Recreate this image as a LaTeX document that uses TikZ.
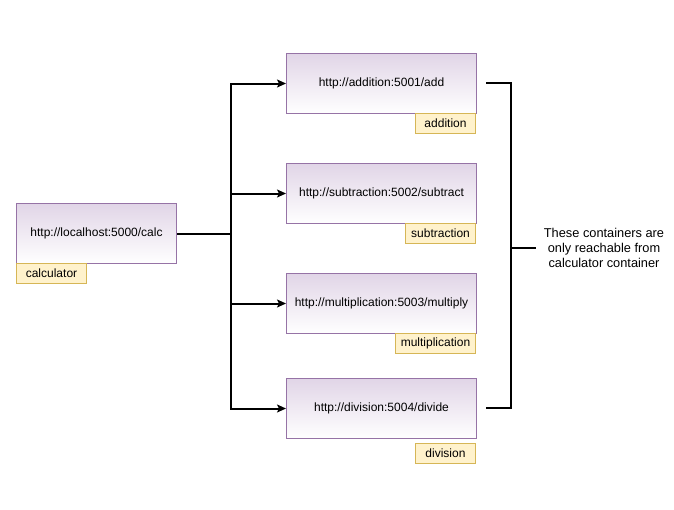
\documentclass[tikz,border=0pt]{standalone}
\usepackage{fontspec}
\setmainfont{Liberation Sans}
\usetikzlibrary{arrows.meta}
\definecolor{boxtop}{HTML}{E1D5E7}
\definecolor{boxline}{HTML}{9673A6}
\definecolor{tagfill}{HTML}{FFF2CC}
\definecolor{tagline}{HTML}{D6B656}
\begin{document}
\begin{tikzpicture}[x=1pt,y=-1pt,
  svc/.style={draw=boxline,line width=1pt,top color=boxtop,bottom color=white,
    minimum height=60pt,inner sep=0pt,font=\fontsize{12}{14}\selectfont,anchor=north west},
  tag/.style={draw=tagline,fill=tagfill,line width=1pt,minimum height=20pt,inner sep=0pt,
    font=\fontsize{12}{14}\selectfont},
  conn/.style={line width=2pt},
  arr/.style={conn,-{Stealth[length=9pt,width=8pt,inset=2pt]}}]
\useasboundingbox (0,0) rectangle (674,509);
\node[svc,minimum width=160pt] (calc) at (16,203) {http://localhost:5000/calc};
\node[tag,minimum width=70pt,anchor=north west] (calct) at (16,263) {calculator};

\node[svc,minimum width=190pt] (add) at (286,53) {http://addition:5001/add};
\node[tag,minimum width=60pt,anchor=north east] (addt) at (476,113) {addition};

\node[svc,minimum width=190pt] (sub) at (286,163) {http://subtraction:5002/subtract};
\node[tag,minimum width=70pt,anchor=north east] (subt) at (476,223) {subtraction};

\node[svc,minimum width=190pt] (mul) at (286,273) {http://multiplication:5003/multiply};
\node[tag,minimum width=80pt,anchor=north east] (mult) at (476,333) {multiplication};

\node[svc,minimum width=190pt] (div) at (286,378) {http://division:5004/divide};
\node[tag,minimum width=60pt,anchor=north east] (divt) at (476,443) {division};

\coordinate (jx) at (231,0);
\coordinate (j) at (calc.east -| jx);
\draw[conn] (calc.east) -- (j);
\draw[arr] (j) |- (add.west);
\draw[arr] (j) |- (sub.west);
\draw[arr] (j) |- (mul.west);
\draw[arr] (j) |- (div.west);

\coordinate (b1) at (486,83);
\coordinate (b2) at (486,408);
\coordinate (bm) at (511,248);
\coordinate (be) at (536,248);
\node[align=center,font=\fontsize{12.8}{15}\selectfont,inner sep=0pt] (note) at (604,248)
  {These containers are\\only reachable from\\calculator container};
\draw[conn,line join=miter] (b1) -- (511,83) -- (511,408) -- (b2);
\draw[conn] (bm) -- (be);
\end{tikzpicture}
\end{document}
